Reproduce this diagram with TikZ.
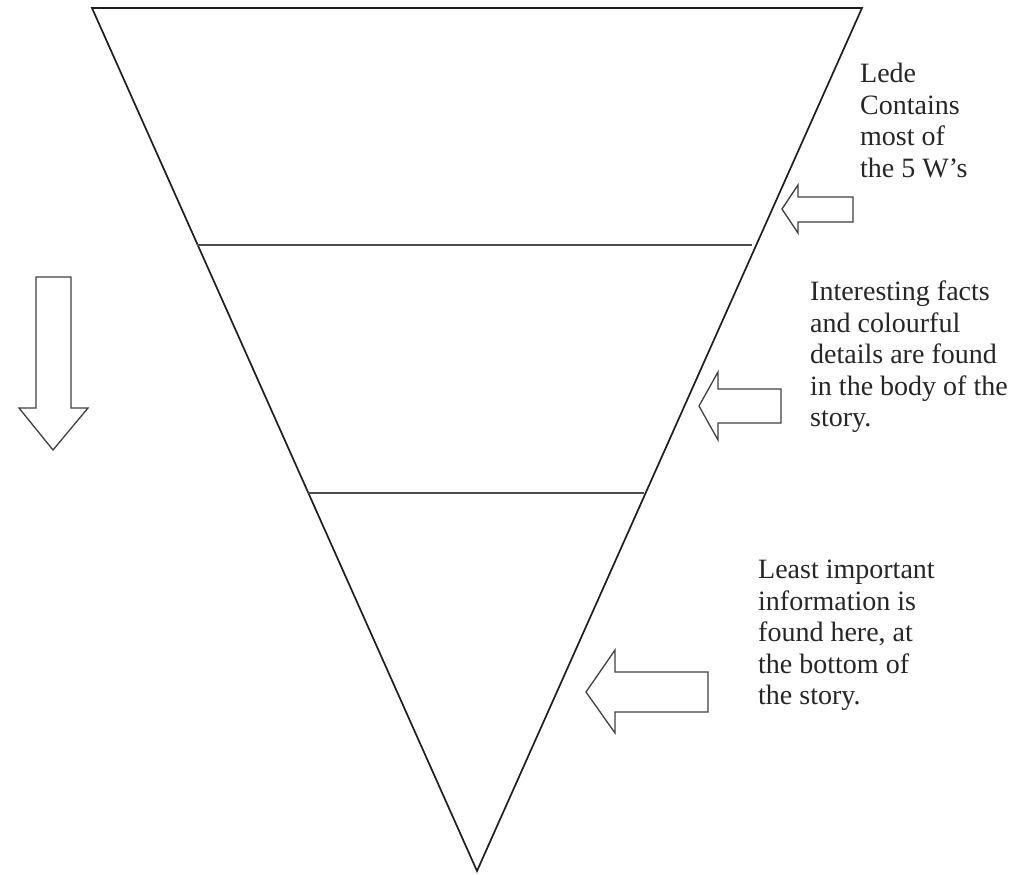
\documentclass[tikz,border=0pt]{standalone}
\usepackage{fontspec}
\setmainfont{Liberation Serif}
\begin{document}
\begin{tikzpicture}[x=1pt,y=-1pt,
  edge/.style={line width=1.7pt,black!88,line join=miter},
  divider/.style={line width=2pt,black!70},
  blockarrow/.style={line width=1.3pt,black!75,fill=white,line join=miter},
  label/.style={anchor=north west,inner sep=0pt,align=left,
    font=\fontsize{28}{31.5}\selectfont,text=black!85}]
\useasboundingbox (0,0) rectangle (1010,875);
% inverted triangle
\coordinate (tl) at (92,8);
\coordinate (tr) at (862,8);
\coordinate (bt) at (477,871);
\draw[edge] (tl) -- (tr) -- (bt) -- cycle;
% dividers
\coordinate (d1l) at (197,245);
\coordinate (d1r) at (752,245);
\coordinate (d2l) at (308,493);
\coordinate (d2r) at (644,493);
\draw[divider] (d1l) -- (d1r);
\draw[divider] (d2l) -- (d2r);
% left down arrow
\draw[blockarrow] (36,277) -- (71,277) -- (71,408) -- (88,408) -- (53,450)
  -- (19,408) -- (36,408) -- cycle;
% arrow 1
\draw[blockarrow] (782,209) -- (798,185) -- (798,197) -- (853,197) -- (853,222)
  -- (798,222) -- (798,233) -- cycle;
% arrow 2
\draw[blockarrow] (699,406) -- (718,372) -- (718,389) -- (781,389) -- (781,423)
  -- (718,423) -- (718,440) -- cycle;
% arrow 3
\draw[blockarrow] (586,692) -- (615,650) -- (615,672) -- (708,672) -- (708,712)
  -- (615,712) -- (615,733) -- cycle;
% labels
\node[label] (t1) at (860,63) {Lede\\Contains\\most of\\the 5 W’s};
\node[label] (t2) at (810,281) {Interesting facts\\and colourful\\details are found\\in the body of the\\story.};
\node[label] (t3) at (758,560) {Least important\\information is\\found here, at\\the bottom of\\the story.};
\end{tikzpicture}
\end{document}
